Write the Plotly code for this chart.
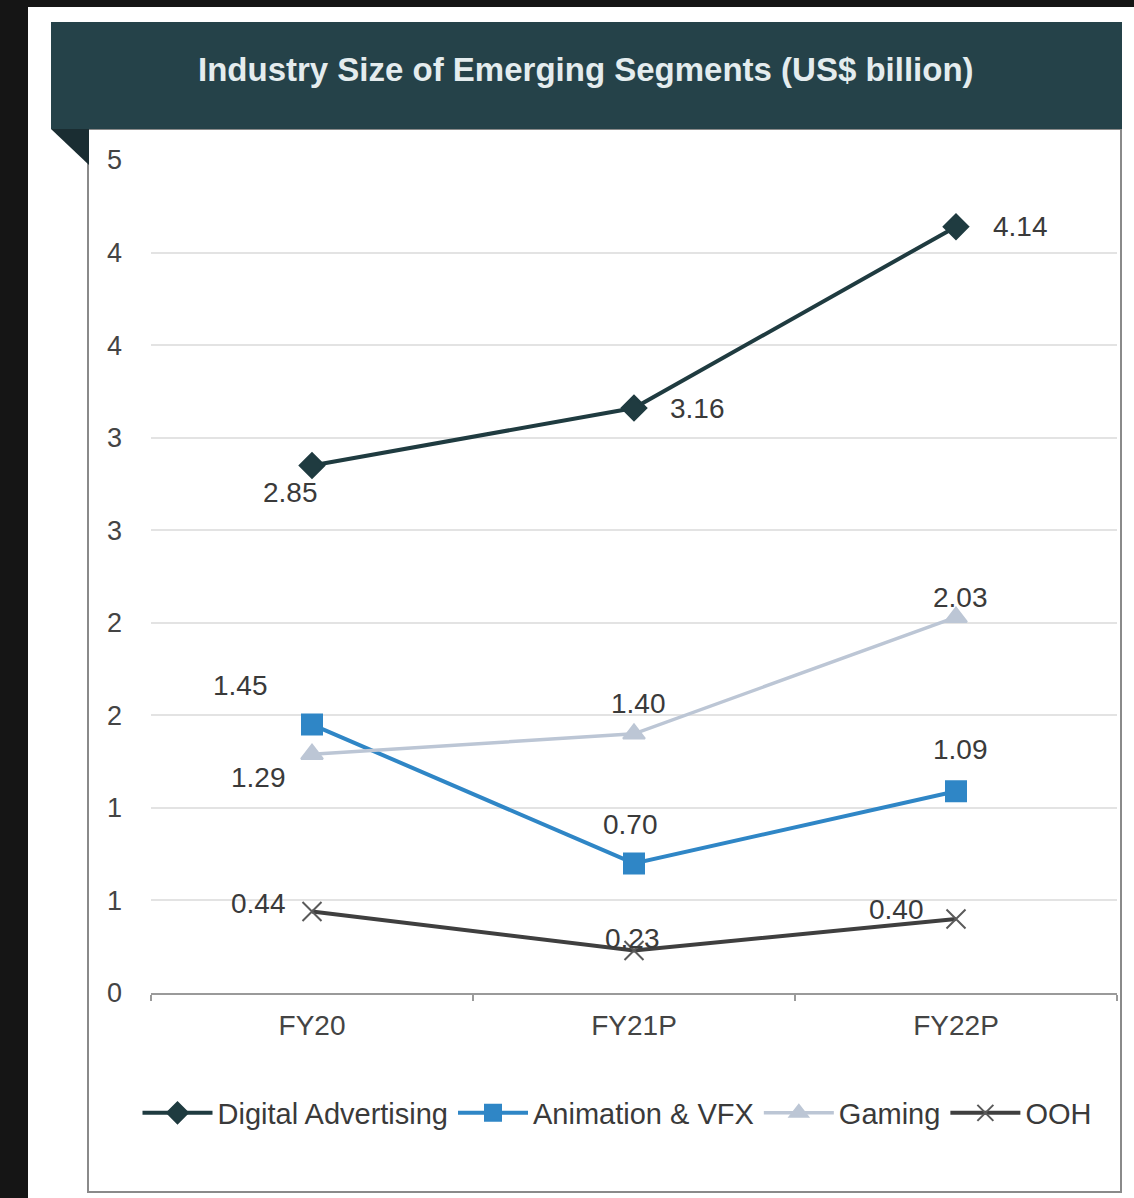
import plotly.graph_objects as go

W, H = 1134, 1198

categories = ["FY20", "FY21P", "FY22P"]
digital = [2.85, 3.16, 4.14]
animation = [1.45, 0.70, 1.09]
gaming = [1.29, 1.40, 2.03]
ooh = [0.44, 0.23, 0.40]

y_tickvals = [0, 0.5, 1.0, 1.5, 2.0, 2.5, 3.0, 3.5, 4.0, 4.5]
y_ticktext = ["0", "1", "1", "2", "2", "3", "3", "4", "4", "5"]

title_text = "Industry Size of Emerging Segments (US$ billion)"

series = [
    dict(name="Digital Advertising", y=digital, color="#1f3b40", symbol="diamond", size=19, width=4,
         mcolor="#1f3b40", offsets=[(-22, -27), (63, 0), (64, 0)]),
    dict(name="Animation & VFX", y=animation, color="#2f86c6", symbol="square", size=20, width=4,
         mcolor="#2f86c6", offsets=[(-72, 39), (-4, 39), (4, 42)]),
    dict(name="Gaming", y=gaming, color="#bcc6d5", symbol="triangle-up", size=19, width=3.5,
         mcolor="#bcc6d5", offsets=[(-54, -23), (4, 30), (4, 20)]),
    dict(name="OOH", y=ooh, color="#3f3f3f", symbol="x-thin", size=19, width=4,
         mcolor="#5a5a5a", offsets=[(-54, 8), (-2, 12), (-60, 9)]),
]

def px(x):
    return x / W

def py(y):
    return 1 - y / H

FONT = "Liberation Sans, Arial"

fig = go.Figure()
annotations = []
for s in series:
    fig.add_trace(go.Scatter(
        x=categories, y=s["y"], name=s["name"], mode="lines+markers",
        line=dict(color=s["color"], width=s["width"]),
        marker=dict(symbol=s["symbol"], size=s["size"], color=s["mcolor"],
                    line=dict(color=s["mcolor"], width=2)),
        cliponaxis=False,
    ))
    for c, v, (dx, dy) in zip(categories, s["y"], s["offsets"]):
        annotations.append(dict(
            x=c, y=v, xref="x", yref="y", text=f"{v:.2f}", showarrow=False,
            xshift=dx, yshift=dy, font=dict(family=FONT, size=28, color="#3a3a3a"),
        ))

annotations.append(dict(
    x=px(586), y=py(70), xref="paper", yref="paper", text=f"<b>{title_text}</b>",
    showarrow=False, font=dict(family=FONT, size=33, color="#e4ecee"),
    xanchor="center", yanchor="middle",
))

shapes = [
    dict(type="rect", xref="paper", yref="paper", x0=0, x1=1, y0=py(7), y1=1,
         fillcolor="#151515", line=dict(width=0), layer="below"),
    dict(type="rect", xref="paper", yref="paper", x0=0, x1=px(28), y0=0, y1=1,
         fillcolor="#151515", line=dict(width=0), layer="below"),
    dict(type="rect", xref="paper", yref="paper", x0=px(88), x1=px(1121), y0=py(1192), y1=py(129),
         fillcolor="rgba(0,0,0,0)", line=dict(color="#8a8a8a", width=2), layer="below"),
    dict(type="rect", xref="paper", yref="paper", x0=px(51), x1=px(1122), y0=py(129), y1=py(22),
         fillcolor="#254249", line=dict(width=0), layer="below"),
    dict(type="path", xref="paper", yref="paper",
         path=f"M {px(51)},{py(129)} L {px(89)},{py(129)} L {px(89)},{py(165)} Z",
         fillcolor="#1a2d32", line=dict(width=0), layer="below"),
]

fig.update_layout(
    width=W, height=H,
    margin=dict(l=0, r=0, t=0, b=0),
    paper_bgcolor="white", plot_bgcolor="white",
    font=dict(family=FONT, color="#444444"),
    showlegend=True,
    legend=dict(orientation="h", x=px(617), xanchor="center", y=py(1113), yanchor="middle",
                font=dict(family=FONT, size=29, color="#3a3a3a"),
                itemwidth=70, tracegroupgap=0, bgcolor="rgba(0,0,0,0)"),
    xaxis=dict(domain=[px(151), px(1117)], type="category", range=[-0.5, 2.5],
               showgrid=False, showline=True, linecolor="#9a9a9a", linewidth=2,
               ticks="outside", tickson="boundaries", ticklen=6, tickcolor="#9a9a9a", tickwidth=2,
               ticklabelstandoff=6,
               tickfont=dict(family=FONT, size=28, color="#444444"),
               automargin=False, zeroline=False, fixedrange=True),
    yaxis=dict(domain=[py(993), py(160)], range=[0, 4.5], tickvals=y_tickvals, ticktext=y_ticktext,
               showgrid=True, gridcolor="#e3e3e3", gridwidth=1.5, zeroline=False, showline=False,
               ticks="", ticklabelstandoff=28,
               tickfont=dict(family=FONT, size=27, color="#444444"),
               automargin=False, fixedrange=True),
    annotations=annotations,
    shapes=shapes,
)

fig.write_html("out.html")
